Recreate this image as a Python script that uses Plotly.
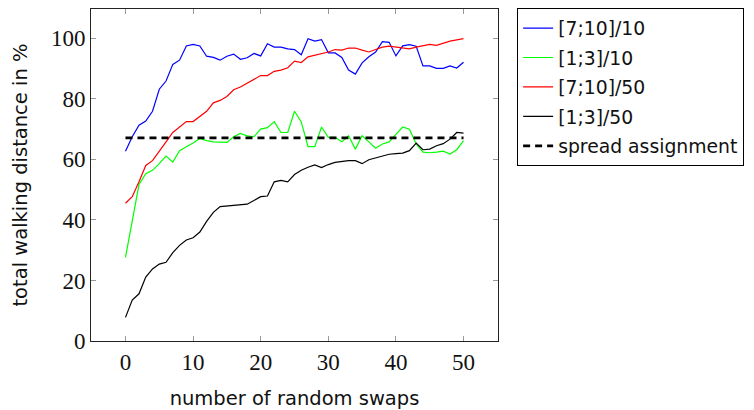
import plotly.graph_objects as go

swaps = list(range(51))

blue_7_10_10 = [62.7, 67.5, 71.3, 72.7, 75.9, 83.2, 85.9, 91.4, 92.8, 97.5,
                98.0, 97.5, 94.1, 93.7, 92.8, 94.1, 94.8, 93.1, 93.6, 95.0,
                94.2, 98.2, 97.1, 97.1, 96.5, 96.3, 94.6, 99.9, 99.1, 99.6,
                95.2, 95.2, 93.7, 89.5, 88.2, 91.9, 93.9, 95.5, 98.9, 98.7,
                94.2, 97.5, 97.9, 97.4, 90.9, 90.9, 90.1, 90.1, 90.9, 90.2,
                92.1]
green_1_3_10 = [27.6, 40.1, 51.7, 55.3, 56.4, 58.6, 61.1, 59.1, 62.9, 64.2,
                65.4, 66.9, 66.2, 65.8, 65.6, 65.6, 67.5, 68.6, 67.8, 67.5,
                70.0, 70.5, 72.5, 68.9, 68.9, 75.9, 72.4, 64.2, 64.2, 70.7,
                67.3, 67.3, 65.8, 67.8, 63.4, 67.8, 65.8, 63.7, 65.1, 65.8,
                68.3, 70.7, 70.0, 65.1, 62.4, 62.2, 62.4, 62.7, 61.8, 63.2,
                66.2]
red_7_10_50 = [45.5, 47.7, 52.6, 58.0, 59.6, 62.9, 65.8, 68.9, 70.7, 72.5,
               72.5, 74.3, 75.9, 78.7, 79.5, 80.8, 83.0, 83.9, 85.2, 86.5,
               87.7, 87.7, 89.1, 89.5, 90.3, 92.5, 92.0, 93.9, 94.4, 95.0,
               95.5, 96.3, 96.1, 96.8, 96.8, 96.1, 95.5, 96.3, 97.1, 97.4,
               97.1, 96.9, 96.5, 97.1, 97.6, 98.0, 97.7, 98.4, 99.1, 99.5,
               99.9]
black_1_3_50 = [7.8, 13.5, 15.6, 21.1, 23.8, 25.4, 26.0, 29.2, 31.6, 33.4,
                34.1, 36.0, 39.5, 42.5, 44.4, 44.6, 44.8, 45.2, 45.2, 46.4,
                47.7, 47.9, 52.6, 53.1, 52.6, 55.0, 56.4, 57.4, 58.2, 57.3,
                58.3, 59.0, 59.3, 59.6, 59.6, 58.6, 59.9, 60.5, 60.9, 61.7,
                61.9, 62.1, 62.9, 65.4, 63.2, 63.4, 64.5, 65.2, 66.7, 68.9,
                68.7]
spread_x = [0, 50]
spread_y = [67.1, 67.1]

names = ["[7;10]/10", "[1;3]/10", "[7;10]/50", "[1;3]/50", "spread assignment"]
x_ticks = [0, 10, 20, 30, 40, 50]
y_ticks = [0, 20, 40, 60, 80, 100]

fig = go.Figure()
for ys, col, nm in [(blue_7_10_10, "#0000ff", names[0]),
                    (green_1_3_10, "#00ff00", names[1]),
                    (red_7_10_50, "#ff0000", names[2]),
                    (black_1_3_50, "#000000", names[3])]:
    fig.add_trace(go.Scatter(x=swaps, y=ys, mode="lines", name=nm, legendgroup=nm,
                             line=dict(color=col, width=1.2)))
fig.add_trace(go.Scatter(x=spread_x, y=spread_y, mode="lines", name=names[4],
                         legendgroup=names[4],
                         line=dict(color="#000000", width=2.8, dash="7px,5px")))

axis_common = dict(showgrid=False, zeroline=False, showline=True,
                   linecolor="#222222", linewidth=1, mirror="allticks",
                   ticks="inside", ticklen=5, tickcolor="#999999", tickwidth=1,
                   tickfont=dict(family="Liberation Serif", size=23, color="#111111"))

# The page body adds an 8px offset, so the figure is sized/margined to compensate.
fig.update_layout(
    width=746, height=402,
    margin=dict(l=83, r=256, t=0, b=65),
    paper_bgcolor="white", plot_bgcolor="white",
    xaxis=dict(range=[-5.1, 55.1], tickvals=x_ticks,
               title=dict(text="number of random swaps", standoff=22,
                          font=dict(family="DejaVu Sans", size=19.5, color="#111111")),
               **axis_common),
    yaxis=dict(range=[0, 109.7], tickvals=y_ticks,
               title=dict(text="total walking distance in %", standoff=18,
                          font=dict(family="DejaVu Sans", size=19.5, color="#111111")),
               **axis_common),
    legend=dict(x=1.047, y=1.002, xanchor="left", yanchor="top",
                bordercolor="#000000", borderwidth=1, bgcolor="white",
                font=dict(family="DejaVu Sans", size=18.8, color="#111111"),
                tracegroupgap=2),
    showlegend=True,
)

fig.write_html("out.html")
